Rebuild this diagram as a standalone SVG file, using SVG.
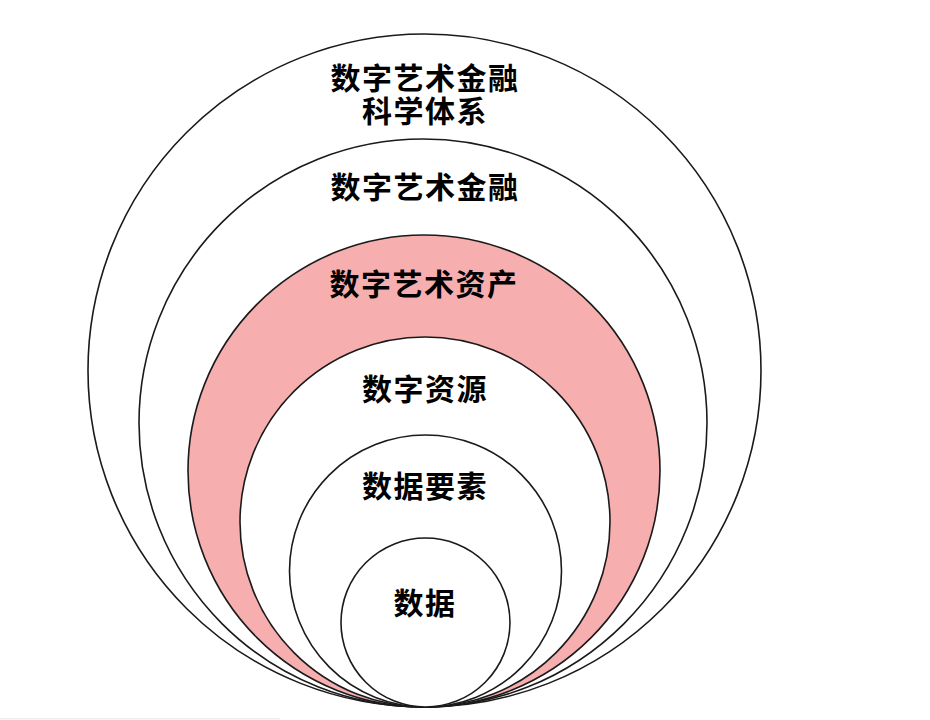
<svg xmlns="http://www.w3.org/2000/svg" width="930" height="720" viewBox="0 0 930 720">
<style>
.ring{fill:#ffffff;stroke:#1a1a1a;stroke-width:1.6}
.pink{fill:#f6aeae}
.lbl{font-family:"Noto Sans CJK SC","Noto Sans",sans-serif;font-weight:700;font-size:30px;fill:#000;text-anchor:middle;letter-spacing:1.5px}
</style>
<rect x="0" y="0" width="930" height="720" fill="#ffffff"/>
<g id="node-system">
<circle class="ring" cx="424.5" cy="370.5" r="336.5"/>
<text class="lbl" x="425" y="89"><tspan x="425" y="89">数字艺术金融</tspan><tspan x="425" y="122">科学体系</tspan></text>
</g>
<g id="node-finance">
<circle class="ring" cx="423" cy="423" r="284"/>
<text class="lbl" x="425" y="198">数字艺术金融</text>
</g>
<g id="node-asset">
<circle class="ring pink" cx="424" cy="471" r="236"/>
<text class="lbl" x="424" y="295">数字艺术资产</text>
</g>
<g id="node-resource">
<circle class="ring" cx="425" cy="522" r="185"/>
<text class="lbl" x="425" y="400">数字资源</text>
</g>
<g id="node-element">
<circle class="ring" cx="425.5" cy="571" r="136"/>
<text class="lbl" x="425" y="497">数据要素</text>
</g>
<g id="node-data">
<circle class="ring" cx="425.5" cy="622.5" r="84.5"/>
<text class="lbl" x="425" y="614">数据</text>
</g>
<g id="connectors"></g>
<rect x="0" y="718" width="280" height="1.5" fill="#ececec"/>
</svg>
